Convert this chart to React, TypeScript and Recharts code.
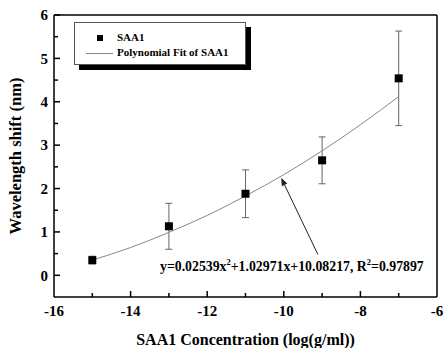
import React from "react";
import {
  ComposedChart,
  Scatter,
  XAxis,
  YAxis,
  ZAxis,
  ErrorBar,
  ReferenceLine,
} from "recharts";

// measured points (log concentration vs. shift)
const concX = [-15, -13, -11, -9, -7];
const shiftY = [0.35, 1.13, 1.88, 2.65, 4.54];
const shiftErr = [0.09, 0.53, 0.55, 0.54, 1.09];

// fitted curve
const fitX = [-15, -14, -13, -12, -11, -10, -9, -8, -7];
const fitY = [0.35, 0.64, 0.99, 1.38, 1.83, 2.32, 2.87, 3.47, 4.12];

const xTicks = [-16, -15, -14, -13, -12, -11, -10, -9, -8, -7, -6];
const yTicks = [0, 0.5, 1, 1.5, 2, 2.5, 3, 3.5, 4, 4.5, 5, 5.5, 6];

const X_MIN = -16;
const Y_MIN = -0.5;

const points = concX.map((x, i) => ({ x, y: shiftY[i], err: shiftErr[i] }));
const curve = fitX.map((x, i) => ({ x, y: fitY[i] }));
// anchor points for the inward tick marks, sitting on the axes
const xTickMarks = xTicks.slice(1, -1).map((v) => ({ x: v, y: Y_MIN, major: v % 2 === 0 }));
const yTickMarks = yTicks.map((v) => ({ x: X_MIN, y: v, major: Number.isInteger(v) }));

const serif = "'Liberation Serif', 'Times New Roman', serif";
const tickStyle = { fontFamily: serif, fontWeight: 700, fontSize: 15, fill: "#000" };

const XTickMark = (props: any) => {
  const { cx, cy, payload } = props;
  const len = payload.major ? 6 : 4;
  return <line x1={cx} y1={cy} x2={cx} y2={cy - len} stroke="#000" strokeWidth={1.5} />;
};

const YTickMark = (props: any) => {
  const { cx, cy, payload } = props;
  const len = payload.major ? 6 : 4;
  return <line x1={cx} y1={cy} x2={cx + len} y2={cy} stroke="#000" strokeWidth={1.5} />;
};

const Arrow = (props: any) => {
  const { x1, y1, x2, y2 } = props;
  const ang = Math.atan2(y2 - y1, x2 - x1);
  const len = 8;
  const w = 3;
  const bx = x2 - len * Math.cos(ang);
  const by = y2 - len * Math.sin(ang);
  const px = -Math.sin(ang) * w;
  const py = Math.cos(ang) * w;
  return (
    <g>
      <line x1={x1} y1={y1} x2={bx} y2={by} stroke="#222" strokeWidth={1} />
      <path d={`M${x2},${y2} L${bx + px},${by + py} L${bx - px},${by - py} Z`} fill="#222" />
    </g>
  );
};

const LegendBox = () => (
  <div
    style={{
      position: "absolute",
      left: 74,
      top: 22,
      width: 170,
      height: 41,
      background: "#fff",
      border: "1px solid #555",
      boxShadow: "5px 5px 0 #000",
      fontFamily: serif,
      fontWeight: 700,
      fontSize: 11,
    }}
  >
    <div style={{ position: "absolute", left: 22, top: 12, width: 6, height: 6, background: "#000" }} />
    <div style={{ position: "absolute", left: 42, top: 8 }}>SAA1</div>
    <div style={{ position: "absolute", left: 11, top: 30, width: 27, borderTop: "1px solid #888" }} />
    <div style={{ position: "absolute", left: 42, top: 23 }}>Polynomial Fit of SAA1</div>
  </div>
);

export default function App() {
  return (
    <div style={{ position: "absolute", left: 0, top: 0, width: 444, height: 348, background: "#fff" }}>
      <ComposedChart width={444} height={348} margin={{ top: 15, right: 7, left: 0, bottom: 0 }}>
        <XAxis
          dataKey="x"
          type="number"
          domain={[-16, -6]}
          ticks={xTicks}
          interval={0}
          tickFormatter={(v: number) => (v % 2 === 0 ? String(v) : "")}
          tickSize={-5}
          tickMargin={13}
          tick={tickStyle}
          tickLine={false}
          height={51}
          axisLine={{ stroke: "#000", strokeWidth: 1.5 }}
          label={{
            value: "SAA1 Concentration (log(g/ml))",
            position: "insideBottom",
            offset: 3,
            style: { fontFamily: serif, fontWeight: 700, fontSize: 16, fill: "#000" },
          }}
        />
        <YAxis
          dataKey="y"
          type="number"
          domain={[-0.5, 6]}
          ticks={yTicks}
          interval={0}
          tickFormatter={(v: number) => (Number.isInteger(v) ? String(v) : "")}
          tickSize={-5}
          tickMargin={11}
          tick={tickStyle}
          tickLine={false}
          width={54}
          axisLine={{ stroke: "#000", strokeWidth: 1.5 }}
          label={{
            value: "Wavelength shift (nm)",
            angle: -90,
            position: "insideLeft",
            offset: 15,
            style: { textAnchor: "middle", fontFamily: serif, fontWeight: 700, fontSize: 16.5, fill: "#000" },
          }}
        />
        <ZAxis range={[36, 36]} />
        <ReferenceLine y={6} stroke="#000" strokeWidth={1.5} />
        <ReferenceLine x={-6} stroke="#000" strokeWidth={1.5} />
        <Scatter data={xTickMarks} shape={XTickMark} isAnimationActive={false} />
        <Scatter data={yTickMarks} shape={YTickMark} isAnimationActive={false} />
        <Scatter
          name="Polynomial Fit of SAA1"
          data={curve}
          line={{ stroke: "#888", strokeWidth: 1 }}
          lineJointType="monotoneX"
          shape={() => null}
          isAnimationActive={false}
        />
        <Scatter name="SAA1" data={points} fill="#000" shape="square" isAnimationActive={false}>
          <ErrorBar dataKey="err" direction="y" width={3.5} stroke="#666" strokeWidth={1} />
        </Scatter>
        <ReferenceLine
          segment={[
            { x: -9.11, y: 0.48 },
            { x: -10.07, y: 2.25 },
          ]}
          shape={Arrow}
        />
      </ComposedChart>
      <LegendBox />
      <div
        style={{
          position: "absolute",
          left: 160,
          top: 257,
          fontFamily: serif,
          fontWeight: 700,
          fontSize: 13.8,
          whiteSpace: "nowrap",
        }}
      >
        y=0.02539x<sup style={{ fontSize: 8.5 }}>2</sup>+1.02971x+10.08217, R<sup style={{ fontSize: 8.5 }}>2</sup>=0.97897
      </div>
    </div>
  );
}
